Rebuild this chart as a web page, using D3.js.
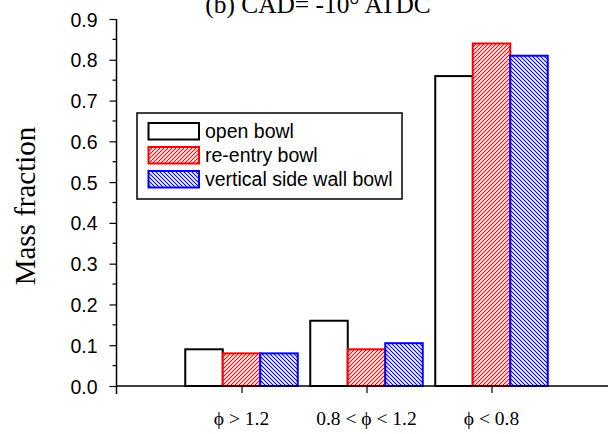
<!DOCTYPE html>
<html>
<head>
<meta charset="utf-8">
<script src="https://cdn.jsdelivr.net/npm/d3@7"></script>
<style>
  html, body { margin: 0; padding: 0; background: #fff; }
  svg { display: block; }
</style>
</head>
<body>
<div id="chart"></div>
<script>
// Mass fraction by equivalence-ratio range for three bowl shapes
const categories = ["\u03D5 > 1.2", "0.8 < \u03D5 < 1.2", "\u03D5 < 0.8"];
const seriesNames = ["open bowl", "re-entry bowl", "vertical side wall bowl"];
const openBowl = [0.09, 0.16, 0.76];
const reentryBowl = [0.08, 0.09, 0.84];
const verticalWallBowl = [0.08, 0.105, 0.81];
const yTicks = [0.0, 0.1, 0.2, 0.3, 0.4, 0.5, 0.6, 0.7, 0.8, 0.9];
const titleText = "(b) CAD= -10\u00B0 ATDC";
const yLabel = "Mass fraction";

const series = [
  { name: seriesNames[0], values: openBowl, stroke: "#000", fill: "#fff" },
  { name: seriesNames[1], values: reentryBowl, stroke: "#ff0000", fill: "url(#hatchRed)" },
  { name: seriesNames[2], values: verticalWallBowl, stroke: "#0000ff", fill: "url(#hatchBlue)" }
];

const W = 608, H = 434;
const svg = d3.select("#chart").append("svg").attr("width", W).attr("height", H);

// hatch patterns
const defs = svg.append("defs");
function hatch(id, color, dir) {
  const p = defs.append("pattern").attr("id", id)
    .attr("patternUnits", "userSpaceOnUse").attr("width", 4).attr("height", 4);
  p.append("rect").attr("width", 4).attr("height", 4).attr("fill", "#fff");
  const d = dir > 0
    ? "M-1,1 l2,-2 M0,4 l4,-4 M3,5 l2,-2"
    : "M-1,3 l2,2 M0,0 l4,4 M3,-1 l2,2";
  p.append("path").attr("d", d).attr("stroke", color).attr("stroke-width", 1.1);
}
hatch("hatchRed", "#ff0000", 1);
hatch("hatchBlue", "#0000ff", -1);

// scales
const x = d3.scaleLinear().domain([0, 4]).range([116.5, 616.5]);
const y = d3.scaleLinear().domain([0, 0.9]).range([386, 19]);
const barW = 0.3;

// bars
series.forEach((s, si) => {
  svg.append("g").selectAll("rect").data(s.values).join("rect")
    .attr("x", (d, i) => x(i + 1 - 1.5 * barW + si * barW))
    .attr("width", x(barW) - x(0))
    .attr("y", d => y(d))
    .attr("height", d => y(0) - y(d))
    .attr("fill", s.fill)
    .attr("stroke", s.stroke)
    .attr("stroke-width", 2);
});

// x axis
const xAxis = d3.axisBottom(x)
  .tickValues([1, 2, 3])
  .tickSize(7)
  .tickFormat("");
const gx = svg.append("g").attr("transform", `translate(0,${y(0)})`).call(xAxis);
gx.select(".domain").attr("d", `M${x(0)},0H${W + 10}`).attr("stroke-width", 1.5);
gx.selectAll(".tick line").attr("stroke-width", 1.2);

svg.append("g").selectAll("text").data(categories).join("text")
  .attr("x", (d, i) => x(i + 1))
  .attr("y", 425)
  .attr("text-anchor", "middle")
  .attr("font-family", "'Liberation Serif', 'Times New Roman', serif")
  .attr("font-size", 19.5)
  .text(d => d);

// y axis
const yAxis = d3.axisLeft(y)
  .tickValues(yTicks)
  .tickSize(7)
  .tickPadding(18)
  .tickFormat(d3.format(".1f"));
const gy = svg.append("g").attr("transform", `translate(${x(0)},0)`).call(yAxis);
gy.select(".domain").attr("d", `M0,${y(0.9)}V${y(0) + 8}`).attr("stroke-width", 1.5);
gy.selectAll(".tick line").attr("stroke-width", 1.2);
gy.selectAll(".tick text")
  .attr("font-family", "'Liberation Sans', Arial, sans-serif")
  .attr("font-size", 19.5)
  .attr("fill", "#000")
  .attr("dx", 6)
  .attr("dy", "0.36em");

// minor ticks
const minor = d3.range(0.05, 0.9, 0.1);
svg.append("g").selectAll("line").data(minor).join("line")
  .attr("x1", x(0) - 4).attr("x2", x(0))
  .attr("y1", d => y(d)).attr("y2", d => y(d))
  .attr("stroke", "#000").attr("stroke-width", 1.2);

// y label
svg.append("text")
  .attr("transform", `translate(35,206) rotate(-90)`)
  .attr("text-anchor", "middle")
  .attr("font-family", "'Liberation Serif', 'Times New Roman', serif")
  .attr("font-size", 29)
  .text(yLabel);

// title
svg.append("text")
  .attr("x", 318).attr("y", 13)
  .attr("text-anchor", "middle")
  .attr("font-family", "'Liberation Serif', 'Times New Roman', serif")
  .attr("font-size", 25.4)
  .text(titleText);

// legend
const lg = svg.append("g");
lg.append("rect").attr("x", 137).attr("y", 113).attr("width", 265).attr("height", 86)
  .attr("fill", "#fff").attr("stroke", "#000").attr("stroke-width", 1.5);
series.forEach((s, i) => {
  const cy = 131 + i * 24;
  lg.append("rect").attr("x", 148.5).attr("y", cy - 8).attr("width", 50.5).attr("height", 16.5)
    .attr("fill", s.fill).attr("stroke", s.stroke).attr("stroke-width", 2);
  lg.append("text").attr("x", 205).attr("y", cy + 7)
    .attr("font-family", "'Liberation Sans', Arial, sans-serif")
    .attr("font-size", 19.5)
    .text(s.name);
});
</script>
</body>
</html>
